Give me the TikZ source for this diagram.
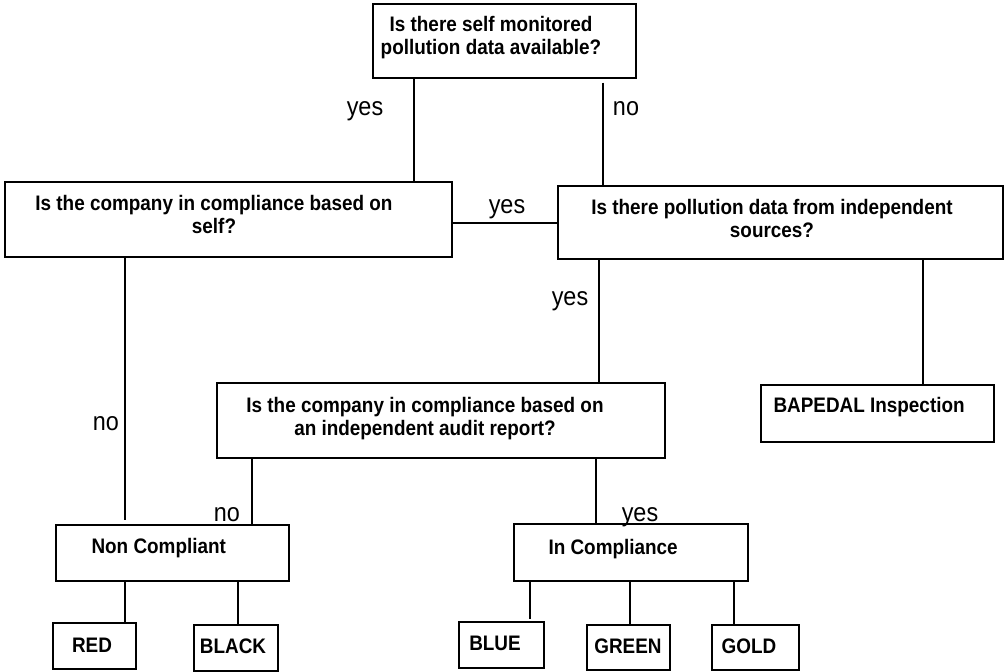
\documentclass[tikz,border=0pt]{standalone}
\usepackage{fontspec}
\setmainfont{Liberation Sans}[FakeStretch=0.9]
\begin{document}
\begin{tikzpicture}[x=1pt,y=-1pt,line width=1.1pt,
    box/.style 2 args={draw,rectangle,inner sep=0pt,minimum width=#1pt,minimum height=#2pt},
    qtext/.style={align=center,inner sep=0pt,font=\bfseries\fontsize{21}{23}\selectfont},
    btext/.style={anchor=base,inner sep=0pt,font=\bfseries\fontsize{21}{23}\selectfont},
    ans/.style={anchor=base,inner sep=0pt,font=\fontsize{26}{28}\selectfont}]
                \useasboundingbox (0,0) rectangle (1005,672);
                \node[box={263}{74}] (topq) at (504.5,41) {};
                \node[box={447}{75}] (selfq) at (228.5,219.5) {};
                \node[box={445}{73}] (indq) at (780.5,222.5) {};
                \node[box={448}{75}] (auditq) at (441,420.5) {};
                \node[box={233}{57}] (bapedal) at (877.5,413.5) {};
                \node[box={233}{56}] (noncomp) at (172.5,553) {};
                \node[box={234}{57}] (incomp) at (631,552.5) {};
                \node[box={83}{46}] (red) at (94.5,646) {};
                \node[box={84}{46}] (black) at (236,648) {};
                \node[box={85}{46}] (blue) at (501.5,645) {};
                \node[box={83}{45}] (green) at (628.5,647.5) {};
                \node[box={87}{45}] (gold) at (755.5,647.5) {};
                \node[qtext] (topqtxt) at (491,38) {Is there self monitored\\pollution data available?};
                \node[qtext] (selfqtxt) at (214,214) {Is the company in compliance based on\\self?};
                \node[qtext] (indqtxt) at (772,218) {Is there pollution data from independent\\sources?};
                \node[qtext] (auditqtxt) at (425,419) {Is the company in compliance based on\\an independent audit report?};
                \node[btext,anchor=base west] (bapedaltxt) at (773,412) {BAPEDAL Inspection};
                \node[btext,anchor=base west] (noncomptxt) at (91,553) {Non Compliant};
                \node[btext,anchor=base west] (incomptxt) at (548,554) {In Compliance};
                \node[btext] (redtxt) at (92,652) {RED};
                \node[btext] (blacktxt) at (233,653) {BLACK};
                \node[btext] (bluetxt) at (495,650) {BLUE};
                \node[btext] (greentxt) at (628,653) {GREEN};
                \node[btext] (goldtxt) at (749,653) {GOLD};
                \draw (topq.south -| 414,0) -- (selfq.north -| 414,0);
                \draw[shorten <=4pt] (topq.south -| 603,0) -- (indq.north -| 603,0);
                \draw (selfq.east |- 0,223) -- (indq.west |- 0,223);
                \draw[shorten >=4pt] (selfq.south -| 125,0) -- (noncomp.north -| 125,0);
                \draw (indq.south -| 599,0) -- (auditq.north -| 599,0);
                \draw (indq.south -| 923,0) -- (bapedal.north -| 923,0);
                \draw (auditq.south -| 252,0) -- (noncomp.north -| 252,0);
                \draw (auditq.south -| 596,0) -- (incomp.north -| 596,0);
                \draw (noncomp.south -| 125,0) -- (red.north -| 125,0);
                \draw (noncomp.south -| 238,0) -- (black.north -| 238,0);
                \draw[shorten >=2pt] (incomp.south -| 530,0) -- (blue.north -| 530,0);
                \draw (incomp.south -| 630,0) -- (green.north -| 630,0);
                \draw (incomp.south -| 734,0) -- (gold.north -| 734,0);
                \node[ans] (yestop) at (365,115) {yes};
                \node[ans] (notop) at (626,115) {no};
                \node[ans] (yesmid) at (507,213) {yes};
                \node[ans] (yesind) at (570,305) {yes};
                \node[ans] (noself) at (106,430) {no};
                \node[ans] (noaudit) at (227,521) {no};
                \node[ans] (yesaudit) at (640,521) {yes};
            \end{tikzpicture}
\end{document}
